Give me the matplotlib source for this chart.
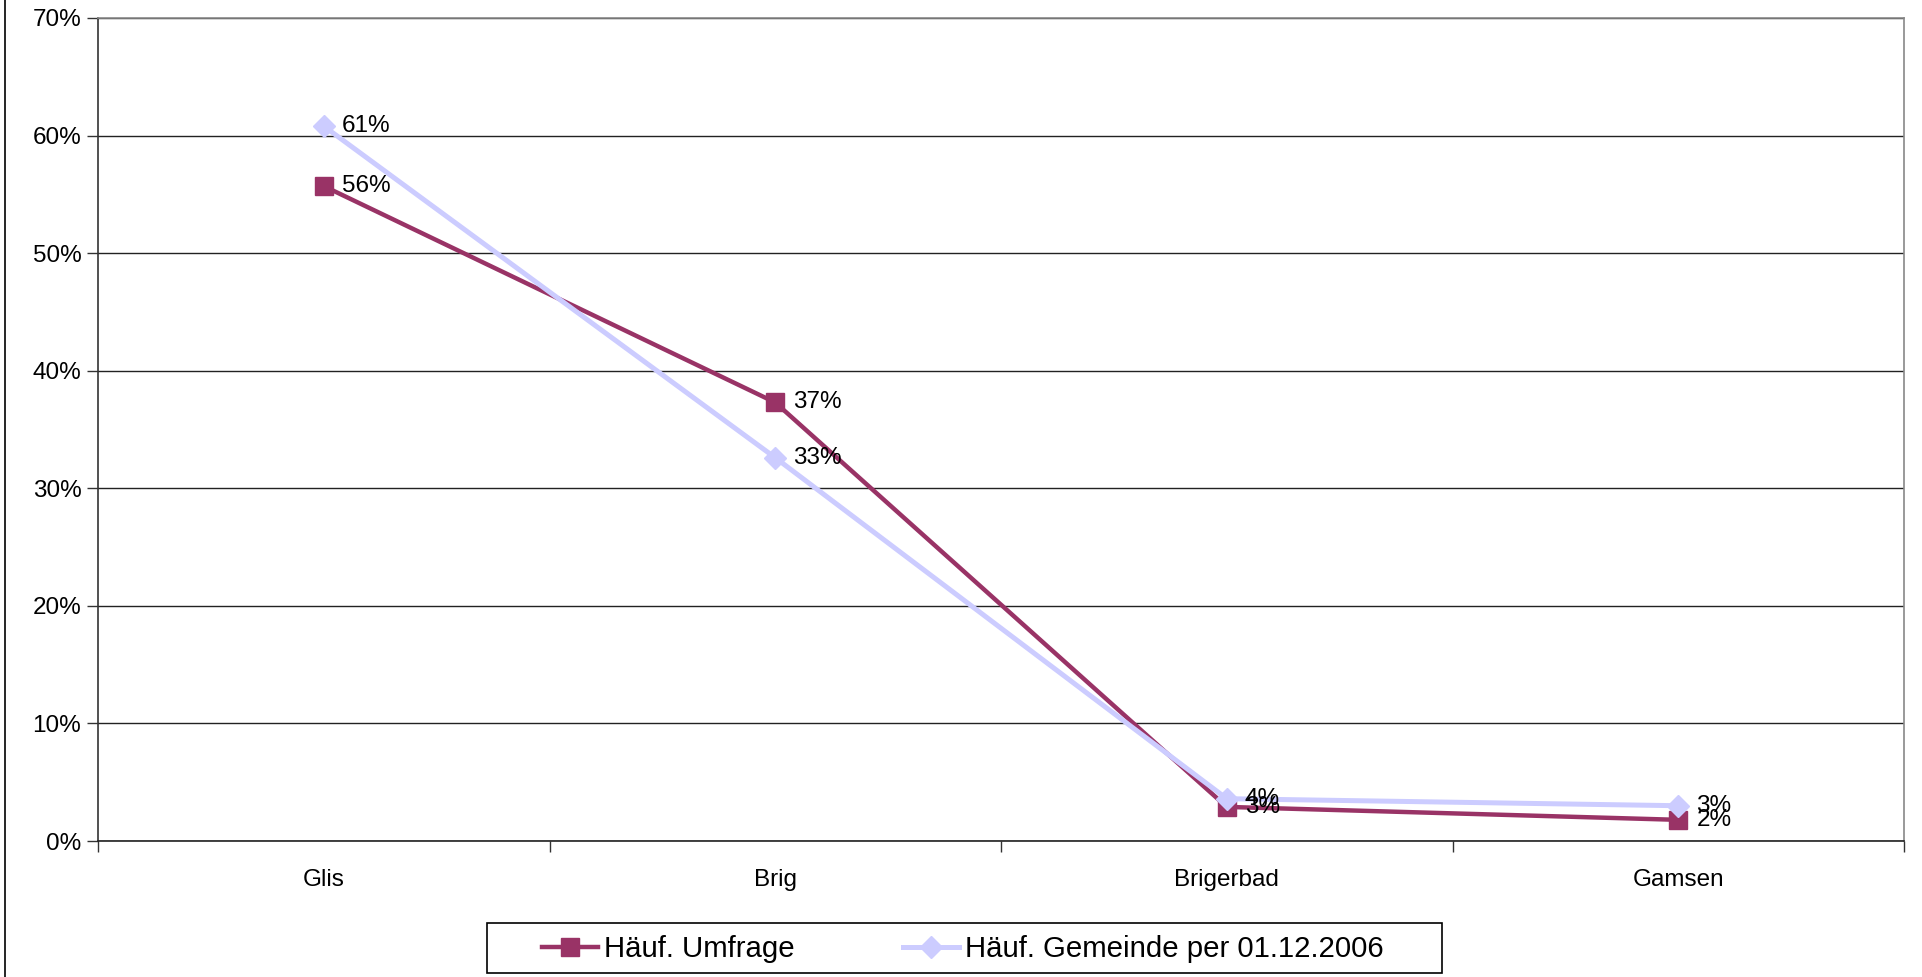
import matplotlib.pyplot as plt
import matplotlib.lines as mlines
import matplotlib.patches as mpatches
from matplotlib.ticker import FixedLocator, PercentFormatter

plt.rcParams["font.family"] = ["Liberation Sans", "DejaVu Sans"]

places = ["Glis", "Brig", "Brigerbad", "Gamsen"]
umfrage = [55.7, 37.3, 2.9, 1.8]
gemeinde = [60.8, 32.6, 3.6, 3.0]
label_umfrage = "Häuf. Umfrage"
label_gemeinde = "Häuf. Gemeinde per 01.12.2006"

purple = "#993366"
lavender = "#ccccff"

fig = plt.figure(figsize=(19.22, 9.77), dpi=100)
ax = fig.add_axes([98 / 1922, 1 - 841 / 977, 1806 / 1922, 823 / 977])

x = list(range(len(places)))
ax.plot(x, umfrage, color=purple, lw=3.2, marker="s", ms=13, zorder=3)
ax.plot(x, gemeinde, color=lavender, lw=3.6, marker="D", ms=11.5, zorder=4)

for xi, v in zip(x, umfrage):
    ax.annotate(f"{v:.0f}%", (xi, v), xytext=(13, 0), textcoords="offset points",
                ha="left", va="center", fontsize=17.5, zorder=5)
for xi, v in zip(x, gemeinde):
    ax.annotate(f"{v:.0f}%", (xi, v), xytext=(13, 0), textcoords="offset points",
                ha="left", va="center", fontsize=17.5, zorder=5)

ax.set_xlim(-0.5, len(places) - 0.5)
ax.set_ylim(0, 70)
ax.set_yticks(range(0, 71, 10))
ax.yaxis.set_major_formatter(PercentFormatter(decimals=0))
ax.grid(axis="y", color="#222222", lw=1)
ax.set_axisbelow(True)

ax.set_xticks(x)
ax.set_xticklabels(places)
ax.xaxis.set_minor_locator(FixedLocator([i - 0.5 for i in range(len(places) + 1)]))
ax.tick_params(axis="x", which="major", length=0, pad=20, labelsize=17.5)
ax.tick_params(axis="x", which="minor", length=8, width=1, color="#333333")
ax.tick_params(axis="y", length=8, width=1, color="#333333", pad=4, labelsize=17.5)

ax.spines["left"].set_color("#333333")
ax.spines["bottom"].set_color("#222222")
ax.spines["top"].set_color("#888888")
ax.spines["right"].set_color("#888888")
for s in ax.spines.values():
    s.set_linewidth(1.2)

# outer chart frame (left edge visible)
fig.add_artist(mlines.Line2D([5 / 1922, 5 / 1922], [0, 1], color="black", lw=1.2))

# legend frame drawn by hand so its padding can match
fig.add_artist(mpatches.Rectangle((487 / 1922, 1 - 973 / 977), 955 / 1922, 50 / 977,
                                  transform=fig.transFigure, fill=False,
                                  edgecolor="black", lw=1.2))
h1 = mlines.Line2D([], [], color=purple, lw=3.2, marker="s", ms=13)
h2 = mlines.Line2D([], [], color=lavender, lw=3.6, marker="D", ms=11.5)
leg = fig.legend([h1, h2], [label_umfrage, label_gemeinde], ncol=2,
                 loc="center", bbox_to_anchor=(963 / 1922, 1 - 949 / 977),
                 fontsize=21.2, frameon=False,
                 handlelength=1.9, handletextpad=0.2, columnspacing=3.7,
                 borderpad=0.2)

fig.savefig("out.png", dpi=100)
